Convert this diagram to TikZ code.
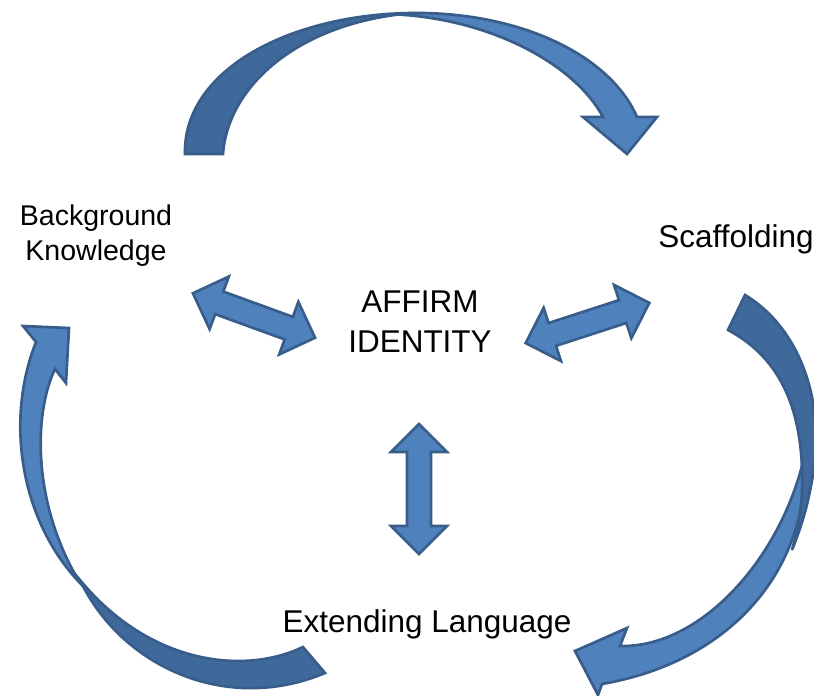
\documentclass[tikz,border=0pt]{standalone}
\usepackage{fontspec}
\setmainfont{Liberation Sans}
\definecolor{afill}{HTML}{4F81BD}
\definecolor{adark}{HTML}{40699B}
\definecolor{aline}{HTML}{385D8A}
\begin{document}
\begin{tikzpicture}[x=0.75pt,y=-0.75pt,
  lbl/.style={font=\fontsize{23.6}{30}\selectfont, inner sep=0pt, align=center},
  small/.style={font=\fontsize{21.4}{26.25}\selectfont, inner sep=0pt, align=center},
  front/.style={fill=afill, draw=aline, line width=2pt, line join=miter},
  back/.style={fill=adark, draw=aline, line width=2pt, line join=miter},
  dbl/.pic={\path[front] (-65,0) -- (-37,-28) -- (-37,-12) -- (37,-12) -- (37,-28)
      -- (65,0) -- (37,28) -- (37,12) -- (-37,12) -- (-37,28) -- cycle;}]
\useasboundingbox (0,0) rectangle (814,696);

% labels
\node[small] (bk) at (96,235.3) {Background\\Knowledge};
\node[lbl, anchor=base] (sc) at (736,247) {Scaffolding};
\node[lbl] (ai) at (420,321.5) {AFFIRM\\IDENTITY};
\node[lbl, anchor=base] (el) at (427,632) {Extending Language};

\begin{scope}
\clip (0,0) rectangle (814,696);
% top curved arrow
\path[front] (413,13) .. controls (520,12) and (610,55) .. (637,117)
  -- (657,117) -- (627,154) -- (583,117) -- (603,117)
  .. controls (575,65) and (495,22) .. (405,15) -- cycle;
\path[back] (185,154) .. controls (183,70) and (290,14) .. (413,13)
  .. controls (300,22) and (228,85) .. (223,154) -- cycle;

% right curved arrow
\path[front] (804,458) .. controls (810,560) and (740,660) .. (602,684)
  -- (598,695) -- (575,651) -- (627,628) -- (620,646)
  .. controls (700,648) and (780,560) .. (804,458) -- cycle;
\path[back] (745,295) .. controls (795,325) and (822,390) .. (815,460)
  .. controls (810,500) and (802,525) .. (792,550)
  .. controls (800,520) and (803,500) .. (802,470)
  .. controls (800,400) and (775,355) .. (728,330) -- cycle;

% left curved arrow
\path[front] (80,583) .. controls (20,520) and (5,420) .. (36,342)
  -- (23,326) -- (69,328) -- (66,383) -- (55,369)
  .. controls (35,410) and (30,500) .. (80,583) -- cycle;
\path[back] (325,673) -- (303,647) .. controls (245,675) and (150,665) .. (80,580)
  .. controls (120,665) and (225,715) .. (325,673) -- cycle;
\end{scope}

% double arrows
\pic (dl) [rotate=-20] at (254,315.5) {dbl};
\pic (dr) [rotate=18] at (587.5,323) {dbl};
\pic (dv) [rotate=90] at (419,489) {dbl};
\end{tikzpicture}
\end{document}
